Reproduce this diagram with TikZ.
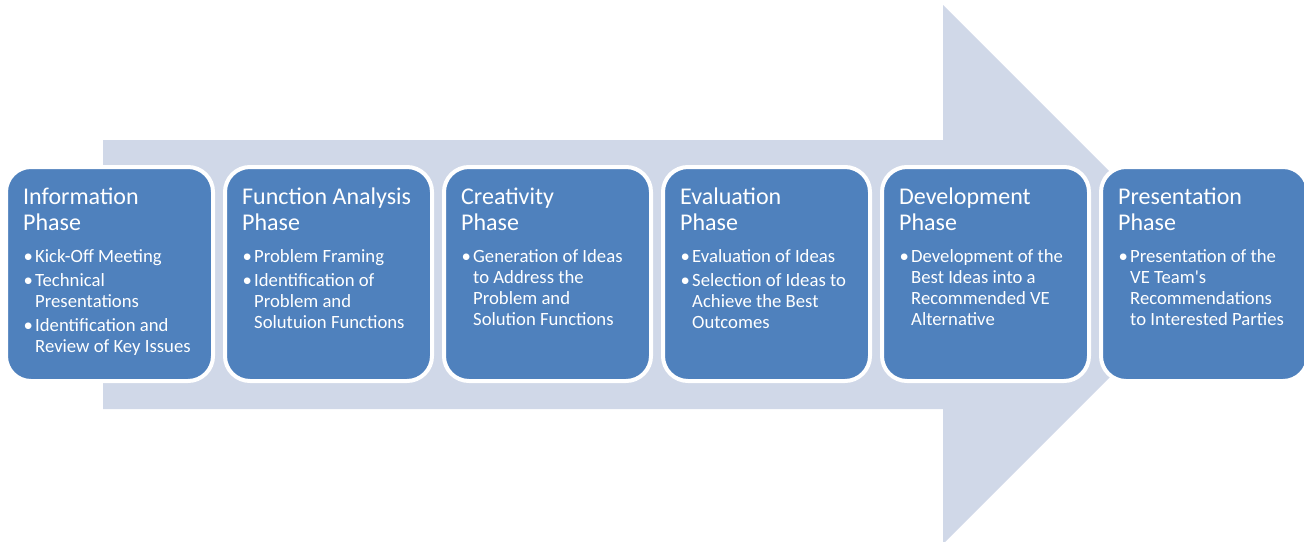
\documentclass[tikz,border=0pt]{standalone}
\usepackage{fontspec}
\setmainfont{Carlito}[Ligatures=TeXOff]
\definecolor{boxblue}{HTML}{4F81BD}
\definecolor{arrowbg}{HTML}{D0D8E8}
\tikzset{
  phasebox/.style={draw=white, line width=4pt, fill=boxblue, rounded corners=25pt,
    minimum width=207pt, minimum height=214pt, inner sep=0pt},
  ttl/.style={anchor=north west, inner sep=0pt, align=left, text=white,
    font=\fontsize{24}{26}\selectfont},
  blt/.style={anchor=north west, inner sep=0pt, align=left, text=white,
    font=\fontsize{18.7}{21}\selectfont},
}
\newcommand{\bl}{\makebox[10pt][l]{\hspace*{-1.5pt}\textbullet}}
\newcommand{\bi}{\hspace*{10pt}}
\newcommand{\phasebx}[4]{%
  \node[phasebox] (#1) at (#2,274) {};
  \node[ttl] (#1-t) at (#2-86.5,185.8) {\strut #3};
  \node[blt] (#1-b) at (#2-84.5,247.3) {\strut #4};
}
\begin{document}
\begin{tikzpicture}[x=1pt,y=-1pt]
\useasboundingbox (0,0) rectangle (1304,541);
\fill[arrowbg] (103,140) -- (943,140) -- (943,5) -- (1212.5,274.5) -- (943,544)
  -- (943,409) -- (103,409) -- cycle;
\phasebx{p1}{109.5}{Information\\Phase}{\bl Kick-Off Meeting\\[3pt]\bl Technical\\\bi Presentations\\[3pt]\bl Identification and\\\bi Review of Key Issues}
\phasebx{p2}{328.5}{Function Analysis\\Phase}{\bl Problem Framing\\[3pt]\bl Identification of\\\bi Problem and\\\bi Solutuion Functions}
\phasebx{p3}{547.5}{Creativity\\Phase}{\bl Generation of Ideas\\\bi to Address the\\\bi Problem and\\\bi Solution Functions}
\phasebx{p4}{766.5}{Evaluation\\Phase}{\bl Evaluation of Ideas\\[3pt]\bl Selection of Ideas to\\\bi Achieve the Best\\\bi Outcomes}
\phasebx{p5}{985.5}{Development\\Phase}{\bl Development of the\\\bi Best Ideas into a\\\bi Recommended VE\\\bi Alternative}
\phasebx{p6}{1204.5}{Presentation\\Phase}{\bl Presentation of the\\\bi VE Team's\\\bi Recommendations\\\bi to Interested Parties}
\end{tikzpicture}
\end{document}
